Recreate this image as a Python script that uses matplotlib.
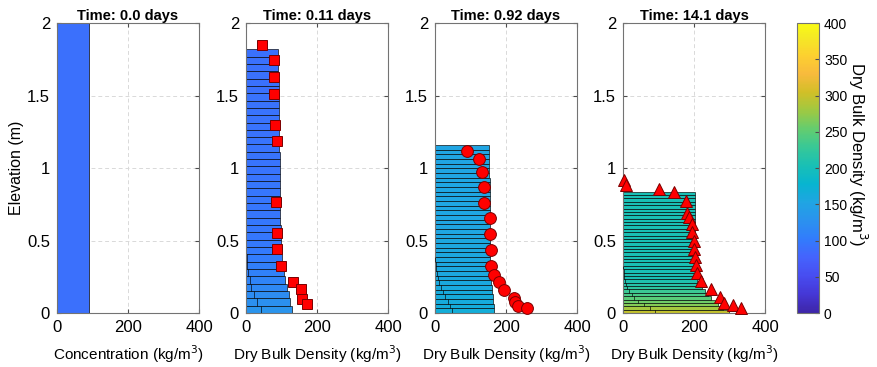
import numpy as np
import matplotlib
matplotlib.use('Agg')
import matplotlib.pyplot as plt
from matplotlib.colors import LinearSegmentedColormap, Normalize
from matplotlib.cm import ScalarMappable

plt.rcParams['font.family'] = ['Liberation Sans', 'DejaVu Sans']
plt.rcParams['font.size'] = 11

# parula-like colormap (sampled anchors)
parula_rgb = [(0.2422, 0.1504, 0.6603), (0.2706, 0.2147, 0.8364), (0.2813, 0.3006, 0.9414),
              (0.2699, 0.3892, 0.9906), (0.1963, 0.4847, 0.9892), (0.1687, 0.5703, 0.9359),
              (0.1248, 0.6459, 0.8883), (0.0297, 0.7082, 0.8163), (0.0964, 0.7500, 0.7120),
              (0.2161, 0.7843, 0.5923), (0.3909, 0.8029, 0.4354), (0.6174, 0.7876, 0.2612),
              (0.8203, 0.7498, 0.1535), (0.9728, 0.7298, 0.2394), (0.9892, 0.8136, 0.1885),
              (0.9597, 0.9135, 0.1423), (0.9769, 0.9839, 0.0805)]
parula_pos = [0, 4, 8, 12, 16, 20, 24, 28, 32, 36, 40, 44, 48, 52, 56, 60, 63]
cmap = LinearSegmentedColormap.from_list('parula', [(p / 63, c) for p, c in zip(parula_pos, parula_rgb)])
norm = Normalize(0, 400)

titles = ['Time: 0.0 days', 'Time: 0.11 days', 'Time: 0.92 days', 'Time: 14.1 days']

# panel 1: initial concentration
conc0 = 90
top1 = 2.0

# layer stacks, bottom to top (36 layers each), dry bulk density (kg/m3)
top2 = 1.82
w2 = [130, 125, 121, 116, 111, 108, 105, 102, 100, 99, 98, 97.5, 97, 96.5, 96, 96, 95.5, 95.5,
      95, 95, 94.5, 94.5, 94, 94, 93.5, 93.5, 93, 93, 92.5, 92.5, 92, 92, 91.5, 91.5, 91, 91]
inner2 = [41, 32, 22, 15, 10, 6.5, 4, 2]

top3 = 1.16
w3 = [167, 165, 164, 162.5, 161, 160, 159, 158, 157, 156.5, 156, 155.5, 155, 155, 155, 155,
      154.5, 154.5, 154.5, 154.5, 154, 154, 154, 154, 154, 153.5, 153.5, 153.5, 153.5, 153,
      153, 153, 153, 153, 152.5, 152.5]
inner3 = [48, 42, 36, 29, 23, 17, 12, 8.5, 6, 4, 2.5, 1]

top4 = 0.837
w4 = [297, 282, 268, 258, 248, 238, 230, 221, 213, 208, 206, 205, 204.5, 204.5, 204.5, 204.5,
      204.5, 204, 204, 204, 204, 204, 204, 204, 204, 204, 203.5, 203.5, 203.5, 203.5, 203.5,
      203.5, 203.5, 203.5, 203.5, 203.5]
inner4 = [90, 75, 60, 42, 32, 24, 17, 12, 8, 6, 4, 3, 2, 1]

# measured points
x2 = [44, 80, 80, 78, 82, 87, 84.5, 88, 88, 98.6, 131.5, 154, 159, 171]
z2 = [1.85, 1.745, 1.63, 1.51, 1.30, 1.19, 0.763, 0.55, 0.44, 0.324, 0.212, 0.165, 0.099, 0.06]

x3 = [89, 125, 133, 138, 138, 155, 154, 158, 159, 166, 180, 194, 223, 226, 235, 258]
z3 = [1.117, 1.06, 0.972, 0.871, 0.761, 0.655, 0.543, 0.434, 0.326, 0.26, 0.214, 0.159,
      0.106, 0.078, 0.05, 0.032]

x4 = [2.8, 8.5, 102, 144.5, 176.5, 179, 186, 195, 195, 199, 199, 203, 205, 209, 220, 247,
      273, 285, 309, 331.5]
z4 = [0.92, 0.883, 0.855, 0.832, 0.775, 0.692, 0.66, 0.612, 0.561, 0.499, 0.439, 0.384,
      0.331, 0.274, 0.221, 0.165, 0.108, 0.071, 0.055, 0.032]

fig = plt.figure(figsize=(8.77, 3.67), dpi=100)
lefts = [0.065, 0.2805, 0.496, 0.7104]
axes = [fig.add_axes([l, 0.147, 0.162, 0.790]) for l in lefts]


def draw_stack(ax, top, widths, inner):
    n = len(widths)
    dz = top / n
    yc = (np.arange(n) + 0.5) * dz
    ax.barh(yc, widths, height=dz, color=cmap(norm(np.array(widths))),
            edgecolor=(0, 0, 0, 0.75), linewidth=0.6, zorder=2)
    for i, xi in enumerate(inner):
        ax.vlines(xi, i * dz, (i + 1) * dz, color=(0, 0, 0, 0.75), lw=0.6, zorder=3)


# panel 1
axes[0].barh(top1 / 2, conc0, height=top1, color=cmap(norm(conc0)),
             edgecolor=(0, 0, 0, 0.8), linewidth=0.6, zorder=2)
axes[0].set_ylabel('Elevation (m)', fontsize=11.5, labelpad=2)
axes[0].set_xlabel('Concentration (kg/m$^3$)', fontsize=11, labelpad=6)

draw_stack(axes[1], top2, w2, inner2)
draw_stack(axes[2], top3, w3, inner3)
draw_stack(axes[3], top4, w4, inner4)

mk = dict(ls='none', mfc='red', mec='#7a0000', mew=0.7, zorder=5, clip_on=False)
axes[1].plot(x2, z2, marker='s', ms=6.5, **mk)
axes[2].plot(x3, z3, marker='o', ms=8.5, **mk)
axes[3].plot(x4, z4, marker='^', ms=9, **mk)

for ax, t in zip(axes, titles):
    ax.set_xlim(0, 400)
    ax.set_ylim(0, 2)
    ax.set_xticks([0, 200, 400])
    ax.set_yticks([0, 0.5, 1, 1.5, 2])
    ax.set_yticklabels(['0', '0.5', '1', '1.5', '2'])
    ax.set_title(t, fontweight='bold', fontsize=10.5, pad=2)
    ax.grid(True, ls=(0, (4, 3)), color='0.85', lw=0.7, zorder=0)
    ax.set_axisbelow(True)
    ax.tick_params(direction='in', top=True, right=True, length=3, color='0.3',
                   labelsize=12, pad=5)
    for s in ax.spines.values():
        s.set_color('0.45')
        s.set_linewidth(0.8)
for ax in axes[1:]:
    ax.set_xlabel('Dry Bulk Density (kg/m$^3$)', fontsize=11, labelpad=6)

cax = fig.add_axes([0.909, 0.147, 0.025, 0.790])
cb = fig.colorbar(ScalarMappable(norm=norm, cmap=cmap), cax=cax)
cb.set_ticks(np.arange(0, 401, 50))
cb.ax.tick_params(direction='in', length=3, labelsize=10, color='0.3')
cb.outline.set_edgecolor('0.45')
cb.set_label('Dry Bulk Density (kg/m$^3$)', rotation=270, fontsize=12)
cb.ax.yaxis.set_label_coords(3.27, 0.55)

fig.savefig('out.png', dpi=100)
